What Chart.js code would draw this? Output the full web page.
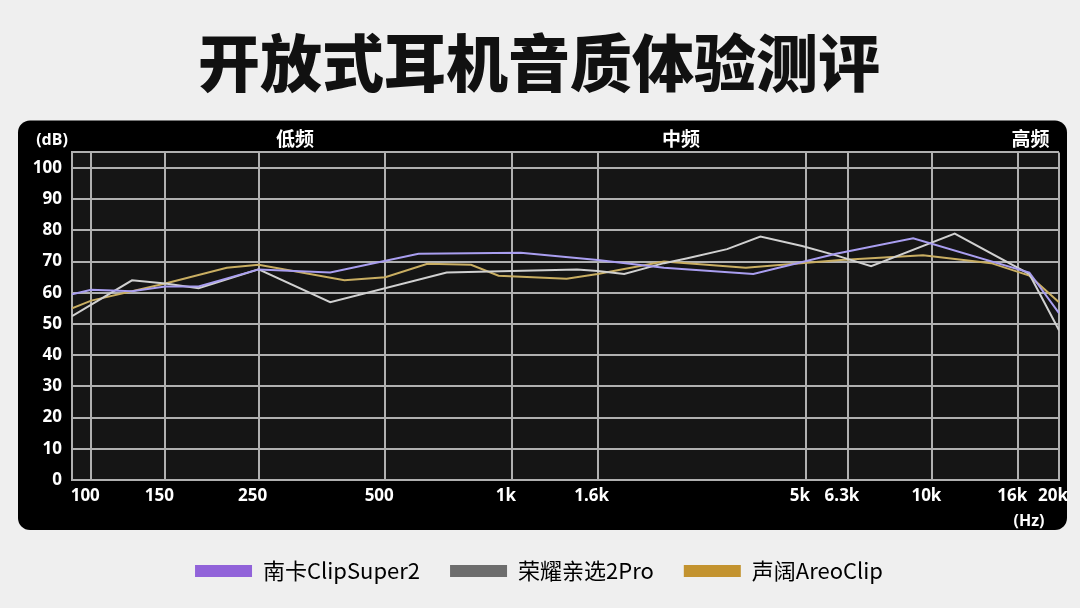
<!DOCTYPE html>
<html lang="zh-CN">
<head>
<meta charset="utf-8">
<title>开放式耳机音质体验测评</title>
<script src="https://cdn.jsdelivr.net/npm/chart.js@4.4.1/dist/chart.umd.min.js"></script>
<style>
  html, body { margin: 0; padding: 0; background: #efefef; }
  #wrap { position: relative; width: 1080px; height: 608px; }
</style>
</head>
<body>
<div id="wrap"><canvas id="fr"></canvas></div>
<script>
// axis ticks
const xTicks = [100, 150, 250, 500, 1000, 1600, 5000, 6300, 10000, 16000, 20000];
const xTickLabels = ['100', '150', '250', '500', '1k', '1.6k', '5k', '6.3k', '10k', '16k', '20k'];
const yTicks = [0, 10, 20, 30, 40, 50, 60, 70, 80, 90, 100];
const bandLabels = ['低频', '中频', '高频'];

// series (Hz / dB)
const seriesNames = ['南卡ClipSuper2', '荣耀亲选2Pro', '声阔AreoClip'];

const nankaFreq = [90, 100, 125, 150, 180, 250, 370, 600, 1050, 1600, 2300, 3750, 5900, 9000, 17000, 20000];
const nankaDb   = [59.5, 61, 60.5, 62, 62, 67.5, 66.5, 72.5, 72.8, 70.5, 68, 66, 72.5, 77.5, 66.5, 53.5];

const honorFreq = [90, 125, 150, 180, 250, 370, 700, 1430, 1600, 1850, 2300, 2600, 3250, 3900, 4900, 5900, 7150, 11300, 17000, 20000];
const honorDb   = [52.5, 64, 63, 61.5, 67.5, 57, 66.5, 67.5, 67, 66, 69.5, 71, 74, 78, 75, 72, 68.5, 79, 66, 48];

const areoFreq = [90, 100, 150, 210, 250, 400, 500, 630, 800, 930, 1350, 1600, 2300, 3600, 6050, 9500, 13800, 17000, 20000];
const areoDb   = [55, 57.5, 63, 68, 69, 64, 65, 69.3, 69, 65.5, 64.5, 66, 70, 68, 70.5, 72, 69.5, 65.5, 57];

const lineColors = ['#a99ef0', '#d0d0d0', '#c9ae62'];
const swatchColors = ['#9163d9', '#6d6d6d', '#c3932f'];
const gridColor = '#b0b0b0';
const cjk = "'Noto Sans CJK SC', 'Noto Sans', sans-serif";
const num = "'Noto Sans', 'Noto Sans CJK SC', sans-serif";

Chart.defaults.font.family = cjk;

const toPoints = (f, d) => f.map((v, i) => ({ x: v, y: d[i] }));

const panel = {
  id: 'panel',
  beforeDraw(chart) {
    const { ctx, chartArea: a } = chart;
    ctx.save();
    ctx.fillStyle = '#000';
    ctx.beginPath();
    ctx.roundRect(a.left - 54, a.top - 32, a.right - a.left + 62, a.bottom - a.top + 82, 12);
    ctx.fill();
    ctx.fillStyle = '#151515';
    ctx.fillRect(a.left, a.top, a.right - a.left, a.bottom - a.top);
    ctx.restore();
  },
  afterDraw(chart) {
    const { ctx, chartArea: a } = chart;
    const w = a.right - a.left;
    ctx.save();
    ctx.fillStyle = '#fff';
    ctx.textBaseline = 'middle';
    ctx.textAlign = 'center';
    ctx.font = "bold 19px " + cjk;
    [0.226, 0.617, 0.971].forEach((p, i) => {
      ctx.fillText(bandLabels[i], a.left + w * p, a.top - 14);
    });
    ctx.font = "bold 16px " + num;
    ctx.fillText('(dB)', a.left - 20, a.top - 12);
    ctx.fillText('(Hz)', a.right - 30, a.bottom + 41);
    ctx.restore();
  }
};

const tickFont = { family: num, size: 17, weight: 'bold' };

new Chart(document.getElementById('fr'), {
  type: 'line',
  data: {
    datasets: [
      { label: seriesNames[0], data: toPoints(nankaFreq, nankaDb), borderColor: lineColors[0] },
      { label: seriesNames[1], data: toPoints(honorFreq, honorDb), borderColor: lineColors[1] },
      { label: seriesNames[2], data: toPoints(areoFreq, areoDb), borderColor: lineColors[2] }
    ]
  },
  options: {
    responsive: true,
    maintainAspectRatio: false,
    animation: false,
    layout: { padding: { left: 18, right: 20, top: 0, bottom: 16 } },
    elements: {
      line: { borderWidth: 2, tension: 0 },
      point: { radius: 0 }
    },
    plugins: {
      title: {
        display: true,
        text: '开放式耳机音质体验测评',
        color: '#111',
        font: { family: cjk, size: 62, weight: 900 },
        padding: { top: 26, bottom: 52 }
      },
      legend: {
        position: 'bottom',
        labels: {
          boxWidth: 57,
          boxHeight: 12,
          padding: 30,
          color: '#222',
          font: { family: cjk, size: 22 },
          generateLabels: chart => chart.data.datasets.map((ds, i) => ({
            text: ds.label,
            fillStyle: swatchColors[i],
            strokeStyle: swatchColors[i],
            lineWidth: 0,
            hidden: false,
            datasetIndex: i
          }))
        }
      },
      tooltip: { enabled: false }
    },
    scales: {
      x: {
        type: 'logarithmic',
        min: 90,
        max: 20000,
        afterBuildTicks: s => { s.ticks = xTicks.map(v => ({ value: v })); },
        afterFit: s => { s.height = 50; },
        grid: { color: gridColor, lineWidth: 2, drawTicks: false },
        border: { color: gridColor, width: 2 },
        ticks: {
          color: '#fff',
          font: tickFont,
          padding: 6,
          labelOffset: -6,
          autoSkip: false,
          maxRotation: 0,
          callback: (v, i) => xTickLabels[i]
        }
      },
      y: {
        min: 0,
        max: 105,
        afterBuildTicks: s => { s.ticks = yTicks.map(v => ({ value: v })).concat([{ value: s.max }]); },
        afterFit: s => { s.width = 54; },
        grid: { color: gridColor, lineWidth: 2, drawTicks: false },
        border: { color: gridColor, width: 2 },
        ticks: {
          color: '#fff',
          font: tickFont,
          padding: 10,
          callback: v => (v > 100 ? '' : v)
        }
      }
    }
  },
  plugins: [panel]
});
</script>
</body>
</html>
